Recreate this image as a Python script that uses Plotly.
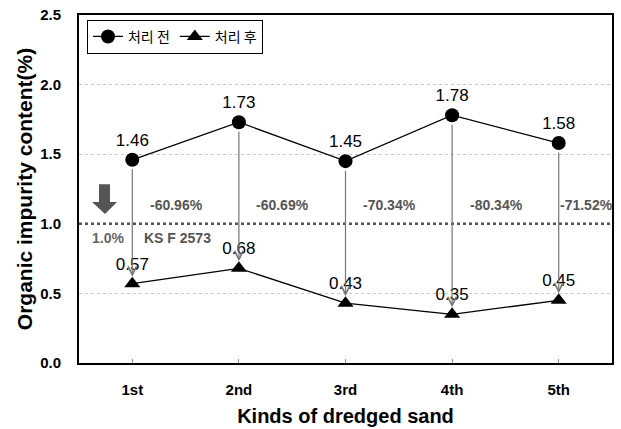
import plotly.graph_objects as go

categories = ["1st", "2nd", "3rd", "4th", "5th"]
before = [1.46, 1.73, 1.45, 1.78, 1.58]
after = [0.57, 0.68, 0.43, 0.35, 0.45]
reductions = ["-60.96%", "-60.69%", "-70.34%", "-80.34%", "-71.52%"]
series_names = ["처리 전", "처리 후"]
standard_value = 1.0
y_ticks = [0.0, 0.5, 1.0, 1.5, 2.0, 2.5]

FONT = "Liberation Sans, Arial, sans-serif"
KFONT = "Noto Sans CJK KR, sans-serif"

fig = go.Figure()
fig.add_trace(go.Scatter(
    x=categories, y=before, name=series_names[0], mode="lines+markers+text",
    line=dict(color="black", width=1.3),
    marker=dict(symbol="circle", size=14, color="black"),
    text=[f"{v:.2f}" for v in before], textposition="top center",
    textfont=dict(family=FONT, size=17, color="black"),
))
fig.add_trace(go.Scatter(
    x=categories, y=after, name=series_names[1], mode="lines+markers+text",
    line=dict(color="black", width=1.3),
    marker=dict(symbol="triangle-up", size=14, color="black"),
    text=[f"{v:.2f}" for v in after], textposition="top center",
    textfont=dict(family=FONT, size=17, color="black"),
))

annotations = []
for i, c in enumerate(categories):
    annotations.append(dict(
        x=c, y=after[i], ax=c, ay=before[i], xref="x", yref="y",
        axref="x", ayref="y", showarrow=True, arrowhead=5, arrowsize=1.4,
        arrowwidth=1.2, arrowcolor="#777777", standoff=7, startstandoff=8, text="",
    ))
    annotations.append(dict(
        x=i, y=1.135, xref="x", yref="y", text=reductions[i], showarrow=False,
        xshift=44 if i < 4 else 28,
        font=dict(family=FONT, size=14, color="#555555", weight="bold"),
    ))
annotations.append(dict(x=0, y=0.898, xref="x", yref="y", text="1.0%", showarrow=False,
                        xshift=-24, font=dict(family=FONT, size=14, color="#666666", weight="bold")))
annotations.append(dict(x=0, y=0.898, xref="x", yref="y", text="KS F 2573", showarrow=False,
                        xshift=45, font=dict(family=FONT, size=14, color="#555555", weight="bold")))

shapes = [
    dict(type="line", xref="paper", yref="y", x0=0, x1=1, y0=standard_value, y1=standard_value,
         line=dict(color="#555555", width=2.5, dash="dot")),
    # block down arrow
    dict(type="path", xref="paper", yref="paper",
         path="M 0.0375,0.514 L 0.0581,0.514 L 0.0581,0.463 L 0.0713,0.463 L 0.0488,0.428 "
              "L 0.0244,0.463 L 0.0375,0.463 Z",
         fillcolor="#555555", line=dict(width=0)),
]

fig.update_layout(
    width=621, height=429,
    margin=dict(l=79, r=9, t=15, b=66),
    paper_bgcolor="white", plot_bgcolor="white",
    font=dict(family=FONT, color="black"),
    showlegend=True,
    legend=dict(
        orientation="h", x=0.015, y=0.986, xanchor="left", yanchor="top",
        bordercolor="black", borderwidth=1, bgcolor="white",
        font=dict(family=KFONT, size=14, color="black"),
        itemwidth=30, tracegroupgap=0,
    ),
    annotations=annotations, shapes=shapes,
    xaxis=dict(
        type="category", range=[-0.5, 4.5], showline=True, linecolor="black", linewidth=2,
        mirror=True, ticks="inside", ticklen=4, tickcolor="#888888", showgrid=False,
        tickfont=dict(family=FONT, size=15, weight="bold"), ticklabelstandoff=12,
        title=dict(text="Kinds of dredged sand", font=dict(family=FONT, size=20, weight="bold"),
                   standoff=12),
        automargin=False,
    ),
    yaxis=dict(
        range=[0, 2.5], tickvals=y_ticks, ticktext=[f"{v:.1f}" for v in y_ticks],
        showline=True, linecolor="black", linewidth=2, mirror=True, ticks="",
        showgrid=True, gridcolor="#c8c8c8", griddash="dot", gridwidth=1, zeroline=False,
        tickfont=dict(family=FONT, size=15, weight="bold"), ticklabelstandoff=13,
        title=dict(text="Organic impurity content(%)", font=dict(family=FONT, size=21, weight="bold"),
                   standoff=2),
        automargin=False,
    ),
)

fig.write_html("out.html")
